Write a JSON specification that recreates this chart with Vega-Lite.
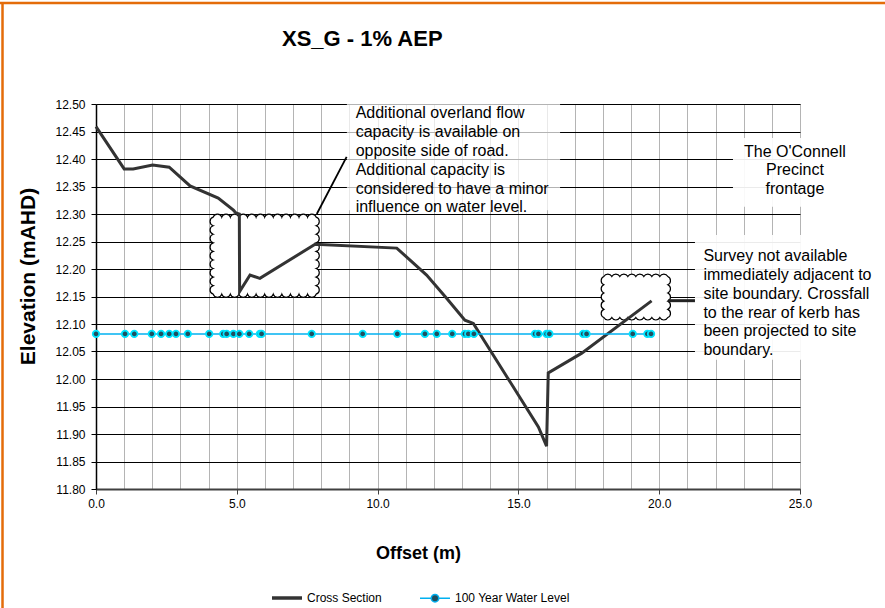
{
  "$schema": "https://vega.github.io/schema/vega-lite/v6.json",
  "width": 704,
  "height": 385,
  "autosize": "none",
  "padding": {"left": 96, "top": 104, "right": 85, "bottom": 119},
  "background": "white",
  "config": {"view": {"stroke": "#808080", "strokeWidth": 1}, "font": "Liberation Sans"},
  "title": {"text": "XS_G - 1% AEP", "anchor": "start", "frame": "group", "dx": 186, "offset": -49, "fontSize": 22, "fontWeight": "bold", "font": "Liberation Sans", "color": "#000000"},
  "datasets": {
    "cross": [
      {"i": 0, "x": 0.0, "y": 12.459, "series": "Cross Section"},
      {"i": 1, "x": 1.0, "y": 12.382, "series": "Cross Section"},
      {"i": 2, "x": 1.32, "y": 12.382, "series": "Cross Section"},
      {"i": 3, "x": 2.01, "y": 12.389, "series": "Cross Section"},
      {"i": 4, "x": 2.6, "y": 12.385, "series": "Cross Section"},
      {"i": 5, "x": 3.34, "y": 12.351, "series": "Cross Section"},
      {"i": 6, "x": 4.34, "y": 12.329, "series": "Cross Section"},
      {"i": 7, "x": 4.88, "y": 12.307, "series": "Cross Section"},
      {"i": 8, "x": 4.97, "y": 12.302, "series": "Cross Section"},
      {"i": 9, "x": 5.09, "y": 12.3, "series": "Cross Section"},
      {"i": 10, "x": 5.1, "y": 12.159, "series": "Cross Section"},
      {"i": 11, "x": 5.47, "y": 12.189, "series": "Cross Section"},
      {"i": 12, "x": 5.82, "y": 12.183, "series": "Cross Section"},
      {"i": 13, "x": 7.78, "y": 12.245, "series": "Cross Section"},
      {"i": 14, "x": 10.68, "y": 12.238, "series": "Cross Section"},
      {"i": 15, "x": 11.74, "y": 12.189, "series": "Cross Section"},
      {"i": 16, "x": 12.45, "y": 12.147, "series": "Cross Section"},
      {"i": 17, "x": 13.1, "y": 12.107, "series": "Cross Section"},
      {"i": 18, "x": 13.4, "y": 12.101, "series": "Cross Section"},
      {"i": 19, "x": 15.71, "y": 11.913, "series": "Cross Section"},
      {"i": 20, "x": 16.0, "y": 11.878, "series": "Cross Section"},
      {"i": 21, "x": 16.06, "y": 12.011, "series": "Cross Section"},
      {"i": 22, "x": 17.25, "y": 12.047, "series": "Cross Section"},
      {"i": 23, "x": 19.73, "y": 12.142, "series": "Cross Section"}
    ],
    "water": [
      {"x": 0.0, "y": 12.082, "series": "100 Year Water Level"},
      {"x": 1.03, "y": 12.082, "series": "100 Year Water Level"},
      {"x": 1.36, "y": 12.082, "series": "100 Year Water Level"},
      {"x": 1.98, "y": 12.082, "series": "100 Year Water Level"},
      {"x": 2.31, "y": 12.082, "series": "100 Year Water Level"},
      {"x": 2.6, "y": 12.082, "series": "100 Year Water Level"},
      {"x": 2.84, "y": 12.082, "series": "100 Year Water Level"},
      {"x": 3.26, "y": 12.082, "series": "100 Year Water Level"},
      {"x": 4.02, "y": 12.082, "series": "100 Year Water Level"},
      {"x": 4.52, "y": 12.082, "series": "100 Year Water Level"},
      {"x": 4.64, "y": 12.082, "series": "100 Year Water Level"},
      {"x": 4.88, "y": 12.082, "series": "100 Year Water Level"},
      {"x": 5.09, "y": 12.082, "series": "100 Year Water Level"},
      {"x": 5.44, "y": 12.082, "series": "100 Year Water Level"},
      {"x": 5.82, "y": 12.082, "series": "100 Year Water Level"},
      {"x": 5.88, "y": 12.082, "series": "100 Year Water Level"},
      {"x": 7.66, "y": 12.082, "series": "100 Year Water Level"},
      {"x": 9.47, "y": 12.082, "series": "100 Year Water Level"},
      {"x": 10.7, "y": 12.082, "series": "100 Year Water Level"},
      {"x": 11.68, "y": 12.082, "series": "100 Year Water Level"},
      {"x": 12.1, "y": 12.082, "series": "100 Year Water Level"},
      {"x": 12.65, "y": 12.082, "series": "100 Year Water Level"},
      {"x": 13.1, "y": 12.082, "series": "100 Year Water Level"},
      {"x": 13.22, "y": 12.082, "series": "100 Year Water Level"},
      {"x": 13.42, "y": 12.082, "series": "100 Year Water Level"},
      {"x": 15.59, "y": 12.082, "series": "100 Year Water Level"},
      {"x": 15.71, "y": 12.082, "series": "100 Year Water Level"},
      {"x": 16.0, "y": 12.082, "series": "100 Year Water Level"},
      {"x": 16.1, "y": 12.082, "series": "100 Year Water Level"},
      {"x": 17.3, "y": 12.082, "series": "100 Year Water Level"},
      {"x": 17.42, "y": 12.082, "series": "100 Year Water Level"},
      {"x": 19.06, "y": 12.082, "series": "100 Year Water Level"},
      {"x": 19.58, "y": 12.082, "series": "100 Year Water Level"},
      {"x": 19.71, "y": 12.082, "series": "100 Year Water Level"}
    ],
    "box1": [{"x": 8.91, "x2": 16.48, "y": 12.507, "y2": 12.307}],
    "boxes": [
      {"x": 22.62, "x2": 27.5, "y": 12.438, "y2": 12.313},
      {"x": 21.27, "x2": 28.0, "y": 12.262, "y2": 12.035}
    ],
    "cloud1": [{"x": 5.99, "y": 12.2242}],
    "cloud2": [{"x": 19.17, "y": 12.149}],
    "leader1": [{"x": 7.84, "y": 12.3, "x2": 8.9, "y2": 12.404}],
    "leader2": [{"x": 20.32, "y": 12.1424, "x2": 21.27, "y2": 12.1424}],
    "textLeft": [
      {"x": 9.22, "y": 12.4975, "label": "Additional overland flow\ncapacity is available on\nopposite side of road.\nAdditional capacity is\nconsidered to have a minor\ninfluence on water level."},
      {"x": 21.57, "y": 12.2378, "label": "Survey not available\nimmediately adjacent to\nsite boundary. Crossfall\nto the rear of kerb has\nbeen projected to site\nboundary."}
    ],
    "textCenter": [
      {"x": 24.82, "y": 12.4275, "label": "The O'Connell\nPrecinct\nfrontage"}
    ],
    "border": [
      {"x": -3.409, "x2": 28.02, "y": 12.6836, "y2": 12.6836},
      {"x": -3.32, "x2": -3.32, "y": 12.6836, "y2": 11.5836}
    ]
  },
  "encoding": {
    "x": {
      "field": "x", "type": "quantitative",
      "scale": {"domain": [0, 25], "nice": false, "zero": false},
      "axis": {
        "title": "Offset (m)",
        "values": [0,1,2,3,4,5,6,7,8,9,10,11,12,13,14,15,16,17,18,19,20,21,22,23,24,25],
        "labelExpr": "datum.value % 5 === 0 ? format(datum.value, '.1f') : ''",
        "tickOpacity": {"condition": {"test": "datum.value % 5 === 0", "value": 1}, "value": 0},
        "grid": true, "gridColor": "#b4b4b4", "gridWidth": 1,
        "domainColor": "#404040", "domainWidth": 2,
        "tickColor": "#404040", "tickSize": 5, "tickWidth": 1,
        "labelFontSize": 12, "labelColor": "#000000", "labelPadding": 4,
        "labelFlush": false, "labelOverlap": false, "labelFont": "Liberation Sans",
        "titleFontSize": 18, "titleFontWeight": "bold", "titleColor": "#000000", "titleFont": "Liberation Sans",
        "titleX": 322, "titleY": 64, "titleBaseline": "middle", "titleAlign": "center"
      }
    },
    "y": {
      "field": "y", "type": "quantitative",
      "scale": {"domain": [11.8, 12.5], "nice": false, "zero": false},
      "axis": {
        "title": "Elevation (mAHD)",
        "values": [11.8, 11.85, 11.9, 11.95, 12, 12.05, 12.1, 12.15, 12.2, 12.25, 12.3, 12.35, 12.4, 12.45, 12.5],
        "format": ".2f",
        "grid": true, "gridColor": "#000000", "gridWidth": 1,
        "domainColor": "#000000", "domainWidth": 1.5,
        "tickColor": "#000000", "tickSize": 5,
        "labelFontSize": 12, "labelColor": "#000000", "labelPadding": 6,
        "labelFlush": false, "labelOverlap": false, "labelFont": "Liberation Sans",
        "titleFontSize": 21, "titleFontWeight": "bold", "titleColor": "#000000", "titleFont": "Liberation Sans",
        "titleAngle": 270, "titleX": -68, "titleY": 172, "titleAlign": "center", "titleBaseline": "middle"
      }
    }
  },
  "layer": [
    {
      "data": {"name": "box1"},
      "mark": {"type": "rect", "fill": "white", "opacity": 0.7},
      "encoding": {"x2": {"field": "x2"}, "y2": {"field": "y2"}}
    },
    {
      "data": {"name": "boxes"},
      "mark": {"type": "rect", "fill": "white", "opacity": 0.92},
      "encoding": {"x2": {"field": "x2"}, "y2": {"field": "y2"}}
    },
    {
      "data": {"name": "cloud1"},
      "mark": {"type": "point", "filled": true, "fill": "white", "stroke": "#000000", "strokeWidth": 1.2, "opacity": 1, "size": 4,
        "shape": "M-51.5,-38.5a4.5,4.5 0 0 1 8.583,0a4.5,4.5 0 0 1 8.583,0a4.5,4.5 0 0 1 8.583,0a4.5,4.5 0 0 1 8.583,0a4.5,4.5 0 0 1 8.583,0a4.5,4.5 0 0 1 8.583,0a4.5,4.5 0 0 1 8.583,0a4.5,4.5 0 0 1 8.583,0a4.5,4.5 0 0 1 8.583,0a4.5,4.5 0 0 1 8.583,0a4.5,4.5 0 0 1 8.583,0a4.5,4.5 0 0 1 8.583,0a4.5,4.5 0 0 1 0,8.556a4.5,4.5 0 0 1 0,8.556a4.5,4.5 0 0 1 0,8.556a4.5,4.5 0 0 1 0,8.556a4.5,4.5 0 0 1 0,8.556a4.5,4.5 0 0 1 0,8.556a4.5,4.5 0 0 1 0,8.556a4.5,4.5 0 0 1 0,8.556a4.5,4.5 0 0 1 0,8.556a4.5,4.5 0 0 1 -8.583,0a4.5,4.5 0 0 1 -8.583,0a4.5,4.5 0 0 1 -8.583,0a4.5,4.5 0 0 1 -8.583,0a4.5,4.5 0 0 1 -8.583,0a4.5,4.5 0 0 1 -8.583,0a4.5,4.5 0 0 1 -8.583,0a4.5,4.5 0 0 1 -8.583,0a4.5,4.5 0 0 1 -8.583,0a4.5,4.5 0 0 1 -8.583,0a4.5,4.5 0 0 1 -8.583,0a4.5,4.5 0 0 1 -8.583,0a4.5,4.5 0 0 1 0,-8.556a4.5,4.5 0 0 1 0,-8.556a4.5,4.5 0 0 1 0,-8.556a4.5,4.5 0 0 1 0,-8.556a4.5,4.5 0 0 1 0,-8.556a4.5,4.5 0 0 1 0,-8.556a4.5,4.5 0 0 1 0,-8.556a4.5,4.5 0 0 1 0,-8.556a4.5,4.5 0 0 1 0,-8.556Z"},
      "encoding": {}
    },
    {
      "data": {"name": "cloud2"},
      "mark": {"type": "point", "filled": true, "fill": "white", "stroke": "#000000", "strokeWidth": 1.2, "opacity": 1, "size": 4,
        "shape": "M-32,-20.5a4.5,4.5 0 0 1 8,0a4.5,4.5 0 0 1 8,0a4.5,4.5 0 0 1 8,0a4.5,4.5 0 0 1 8,0a4.5,4.5 0 0 1 8,0a4.5,4.5 0 0 1 8,0a4.5,4.5 0 0 1 8,0a4.5,4.5 0 0 1 8,0a4.5,4.5 0 0 1 0,8.2a4.5,4.5 0 0 1 0,8.2a4.5,4.5 0 0 1 0,8.2a4.5,4.5 0 0 1 0,8.2a4.5,4.5 0 0 1 0,8.2a4.5,4.5 0 0 1 -8,0a4.5,4.5 0 0 1 -8,0a4.5,4.5 0 0 1 -8,0a4.5,4.5 0 0 1 -8,0a4.5,4.5 0 0 1 -8,0a4.5,4.5 0 0 1 -8,0a4.5,4.5 0 0 1 -8,0a4.5,4.5 0 0 1 -8,0a4.5,4.5 0 0 1 0,-8.2a4.5,4.5 0 0 1 0,-8.2a4.5,4.5 0 0 1 0,-8.2a4.5,4.5 0 0 1 0,-8.2a4.5,4.5 0 0 1 0,-8.2Z"},
      "encoding": {}
    },
    {
      "data": {"name": "leader1"},
      "mark": {"type": "rule", "color": "#000000", "strokeWidth": 1.8},
      "encoding": {"x2": {"field": "x2"}, "y2": {"field": "y2"}}
    },
    {
      "data": {"name": "leader2"},
      "mark": {"type": "rule", "color": "#222222", "strokeWidth": 3},
      "encoding": {"x2": {"field": "x2"}, "y2": {"field": "y2"}}
    },
    {
      "data": {"name": "cross"},
      "mark": {"type": "line", "strokeWidth": 3},
      "encoding": {
        "order": {"field": "i", "type": "quantitative"},
        "stroke": {
          "field": "series", "type": "nominal",
          "scale": {"domain": ["Cross Section", "100 Year Water Level"], "range": ["#333333", "#00B0F0"]},
          "legend": {
            "orient": "none", "legendX": 185, "legendY": 488, "direction": "horizontal", "title": null,
            "symbolSize": 900, "symbolType": "stroke", "symbolStrokeWidth": 3.5,
            "labelFontSize": 12, "labelFont": "Liberation Sans", "labelColor": "#000000",
            "labelOffset": 14, "columnPadding": 35, "padding": 0,
            "encode": {
              "symbols": {
                "update": {
                  "shape": {"signal": "datum.value === 'Cross Section' ? 'stroke' : 'M-1,0L-0.25,0M0.25,0L1,0M0.25,0A0.25,0.25 0 1 1 -0.25,0A0.25,0.25 0 1 1 0.25,0Z'"},
                  "fill": {"signal": "datum.value === 'Cross Section' ? 'transparent' : '#1f4f5f'"},
                  "strokeWidth": {"signal": "datum.value === 'Cross Section' ? 3.5 : 1.5"}
                }
              }
            }
          }
        }
      }
    },
    {
      "data": {"name": "water"},
      "mark": {"type": "line", "strokeWidth": 1.5},
      "encoding": {"stroke": {"field": "series", "type": "nominal"}}
    },
    {
      "data": {"name": "water"},
      "mark": {"type": "point", "shape": "circle", "filled": true, "fill": "#1f4f5f", "stroke": "#00E5FF", "strokeWidth": 1.8, "size": 42, "opacity": 1},
      "encoding": {}
    },
    {
      "data": {"name": "textLeft"},
      "mark": {"type": "text", "align": "left", "baseline": "top", "fontSize": 16, "font": "Liberation Sans", "color": "#000000", "lineBreak": "\n", "lineHeight": 18.8},
      "encoding": {"text": {"field": "label", "type": "nominal"}}
    },
    {
      "data": {"name": "textCenter"},
      "mark": {"type": "text", "align": "center", "baseline": "top", "fontSize": 16, "font": "Liberation Sans", "color": "#000000", "lineBreak": "\n", "lineHeight": 18.5},
      "encoding": {"text": {"field": "label", "type": "nominal"}}
    },
    {
      "data": {"name": "border"},
      "mark": {"type": "rule", "color": "#E46C0A", "strokeWidth": 2.5},
      "encoding": {"x2": {"field": "x2"}, "y2": {"field": "y2"}}
    }
  ]
}
